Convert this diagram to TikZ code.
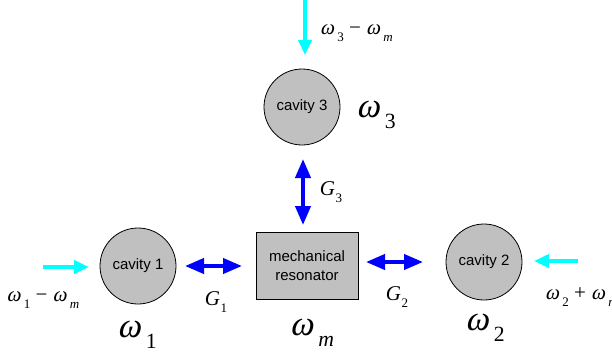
\documentclass[tikz,border=0pt]{standalone}
\usepackage{fontspec}
\setmainfont{Liberation Serif}
\newfontfamily\arialf{Liberation Sans}
\newfontfamily\omf[FakeSlant=0.22]{Liberation Serif}
\usetikzlibrary{arrows.meta}
\definecolor{cavgray}{RGB}{192,192,192}
\definecolor{bluearr}{RGB}{0,0,255}
\definecolor{cyanarr}{RGB}{0,255,255}
\newcommand\om[1]{{\omf ω}\kern0.16em\raisebox{-0.3em}{\scalebox{0.62}{#1}}}
\newcommand\Gl[1]{\textit{G}\kern0.03em\raisebox{-0.3em}{\scalebox{0.62}{#1}}}
\tikzset{
  cav/.style={circle,draw=black,line width=0.8pt,fill=cavgray,minimum size=76pt,inner sep=0pt,font=\arialf\fontsize{15}{17}\selectfont},
  mech/.style={rectangle,draw=black,line width=0.8pt,fill=cavgray,minimum width=102pt,minimum height=67pt,align=center,font=\arialf\fontsize{15}{19}\selectfont},
  coup/.style={bluearr,line width=4pt,{Triangle[length=19pt,width=15pt]}-{Triangle[length=19pt,width=15pt]}},
  drive/.style={cyanarr,line width=4pt,-{Triangle[length=15pt,width=13pt]}},
  small/.style={inner sep=0pt,font=\fontsize{21}{23}\selectfont},
  big/.style={inner sep=0pt,font=\fontsize{35}{37}\selectfont}
}
\begin{document}
\begin{tikzpicture}[x=1pt,y=-1pt]
\useasboundingbox (0,0) rectangle (612,362);
\node[cav] (c3) at (302,107) {cavity 3};
\node[cav] (c1) at (138,266) {cavity 1};
\node[cav] (c2) at (484,262) {cavity 2};
\node[mech] (m) at (307,265.5) {mechanical\\resonator};
% coupling arrows
\coordinate (a1s) at (185,266); \coordinate (a1e) at (242,266);
\draw[coup] (a1s) -- (a1e);
\coordinate (a2s) at (366,262); \coordinate (a2e) at (423,262);
\draw[coup] (a2s) -- (a2e);
\coordinate (a3s) at (303,159); \coordinate (a3e) at (303,225);
\draw[coup] (a3s) -- (a3e);
% drive arrows
\coordinate (d3s) at (305,0); \coordinate (d3e) at (305,55);
\draw[drive] (d3s) -- (d3e);
\coordinate (d1s) at (43,267); \coordinate (d1e) at (89,267);
\draw[drive] (d1s) -- (d1e);
\coordinate (d2s) at (578,261); \coordinate (d2e) at (534,261);
\draw[drive] (d2s) -- (d2e);
% labels
\node[small,anchor=west] (l3) at (320,33) {\om{3} − \om{\textit{m}}};
\node[big] (w3) at (376,115) {\om{3}};
\node[small] (g3) at (331,192) {\Gl{3}};
\node[small] (l1) at (43,300) {\om{1} − \om{\textit{m}}};
\node[small] (g1) at (216,302) {\Gl{1}};
\node[big] (w1) at (137,335) {\om{1}};
\node[small] (g2) at (397,297) {\Gl{2}};
\node[big] (wm) at (312,333) {\om{\textit{m}}};
\node[big] (w2) at (485,328) {\om{2}};
\node[small,anchor=west] (l2) at (545,297) {\om{2} + \om{\textit{m}}};
\end{tikzpicture}
\end{document}
